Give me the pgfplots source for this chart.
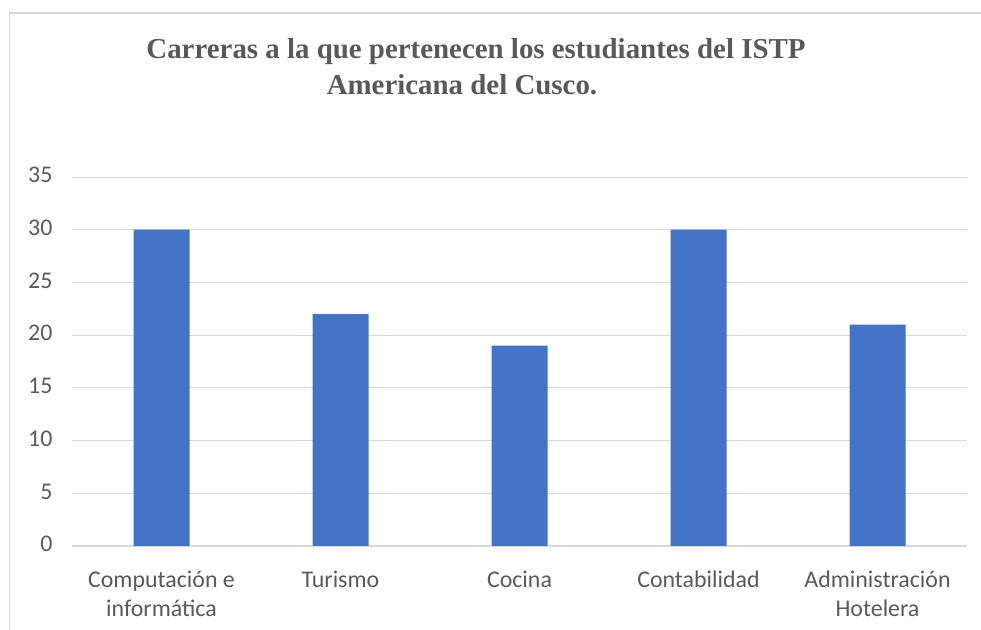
\documentclass[border=0pt]{standalone}
\usepackage{pgfplots}
\pgfplotsset{compat=1.18}
\usepackage{fontspec}
\setmainfont{Carlito}
\newfontfamily\titlefont{Liberation Serif}
\definecolor{barblue}{HTML}{4472C4}
\definecolor{txtgray}{HTML}{595959}
\definecolor{gridgray}{HTML}{D9D9D9}
\begin{document}
\begin{tikzpicture}[x=1bp,y=1bp]
\path[use as bounding box] (0,0) rectangle (981,630);
\draw[gridgray, line width=1.2bp] (9.5,0) -- (9.5,617) -- (981,617);
\node[font=\titlefont\bfseries\fontsize{29}{34}\selectfont, text=txtgray] at (476,578) {Carreras a la que pertenecen los estudiantes del ISTP};
\node[font=\titlefont\bfseries\fontsize{29}{34}\selectfont, text=txtgray] at (462,545) {Americana del Cusco.};
\begin{axis}[
  at={(72bp,84bp)}, anchor=south west,
  scale only axis, width=895bp, height=369bp,
  xmin=-0.5, xmax=4.5, ymin=0, ymax=35,
  ytick={0,5,...,35},
  xtick={0,1,2,3,4},
  xticklabels={Computación e\\informática, Turismo, Cocina, Contabilidad, Administración\\Hotelera},
  xticklabel style={align=center, anchor=north, font=\fontsize{24}{29}\selectfont, text=txtgray, yshift=-18bp},
  typeset ticklabels with strut,
  yticklabel style={font=\fontsize{24}{29}\selectfont, text=txtgray, xshift=-16bp},
  /pgf/number format/assume math mode=true,
  axis line style={draw=none},
  axis x line*=bottom,
  ymajorgrids, grid style={gridgray, line width=0.9bp},
  major tick length=0pt,
  ybar, bar width=56bp,
  extra y ticks={0}, extra y tick style={grid style={gridgray, line width=1.2bp}, yticklabels={}},
]
\addplot[fill=barblue, draw=none] coordinates {(0,30) (1,22) (2,19) (3,30) (4,21)};
\end{axis}
\end{tikzpicture}
\end{document}
